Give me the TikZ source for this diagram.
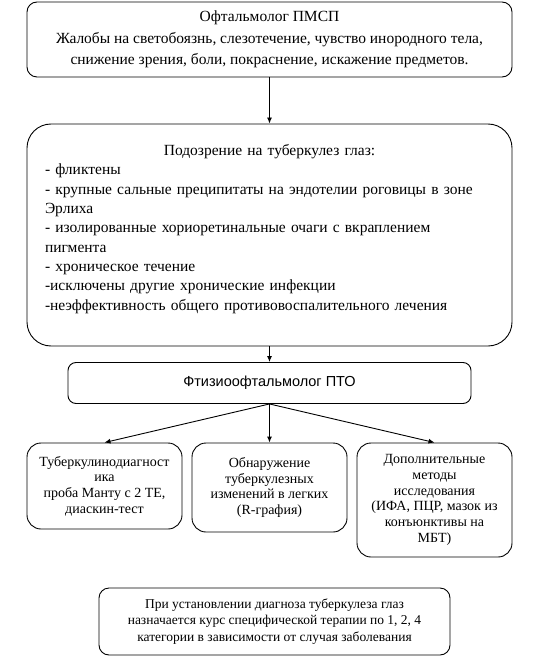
\documentclass[tikz,border=0pt]{standalone}
\usepackage{fontspec}
\setmainfont{Liberation Serif}
\setsansfont{Liberation Sans}
\usetikzlibrary{arrows.meta}
\tikzset{%
    blk/.style={draw,rounded corners=10pt,line width=0.9pt,align=center,inner sep=0pt,
        font=\fontsize{15.5}{21.5}\selectfont},
    lst/.style={draw,rounded corners=24pt,line width=0.9pt,inner sep=0pt,
        font=\fontsize{15.5}{19.3}\selectfont},
    sml/.style={draw,rounded corners=14pt,line width=0.9pt,align=center,inner sep=0pt,
        font=\fontsize{14}{15.7}\selectfont},
    arr/.style={line width=0.9pt,-{Latex[length=6pt,width=5pt]}}
}
\begin{document}
\begin{tikzpicture}[x=1pt,y=-1pt]
        \useasboundingbox (0,0) rectangle (546,660);

        \node[blk,minimum width=485pt,minimum height=75pt] (a) at (269.5,39.5)
            {Офтальмолог ПМСП\\Жалобы на светобоязнь, слезотечение, чувство инородного тела,\\снижение зрения, боли, покраснение, искажение предметов.};

        \node[lst,minimum width=485pt,minimum height=222pt,text width=449pt] (b) at (269.5,235)
            {{\centering Подозрение на туберкулез глаз:\par}
            \raggedright
            - фликтены\\
            - крупные сальные преципитаты на эндотелии роговицы в зоне\\
            Эрлиха\\
            - изолированные хориоретинальные очаги с вкраплением\\
            пигмента\\
            - хроническое течение\\
            -исключены другие хронические инфекции\\
            -неэффективность общего противовоспалительного лечения\par
            \vspace{-4pt}\mbox{}};

        \node[blk,rounded corners=8pt,minimum width=403pt,minimum height=41pt,
            font=\sffamily\fontsize{14.5}{17}\selectfont] (c) at (269.5,383)
            {Фтизиоофтальмолог ПТО};

        \node[sml,minimum width=155pt,minimum height=86pt] (d1) at (104.5,486)
            {Туберкулинодиагност\\ика\\проба Манту с 2 ТЕ,\\диаскин-тест};
        \node[sml,minimum width=155pt,minimum height=89pt] (d2) at (269.5,487.5)
            {Обнаружение\\туберкулезных\\изменений в легких\\(R-графия)};
        \node[sml,minimum width=155pt,minimum height=114pt] (d3) at (434.5,500)
            {Дополнительные\\методы\\исследования\\(ИФА, ПЦР, мазок из\\конъюнктивы на\\МБТ)};

        \node[blk,minimum width=351pt,minimum height=67pt,
            font=\fontsize{13.5}{16.7}\selectfont] (e) at (274.5,621.5)
            {При установлении диагноза туберкулеза глаз\\назначается курс специфической терапии по 1, 2, 4\\категории в зависимости от случая заболевания};

        \draw[arr] (a) -- (b);
        \draw[arr] (b) -- (c);
        \draw[arr] (c.south) -- (d1.north);
        \draw[arr] (c.south) -- (d2.north);
        \draw[arr] (c.south) -- (d3.north);
    \end{tikzpicture}
\end{document}
